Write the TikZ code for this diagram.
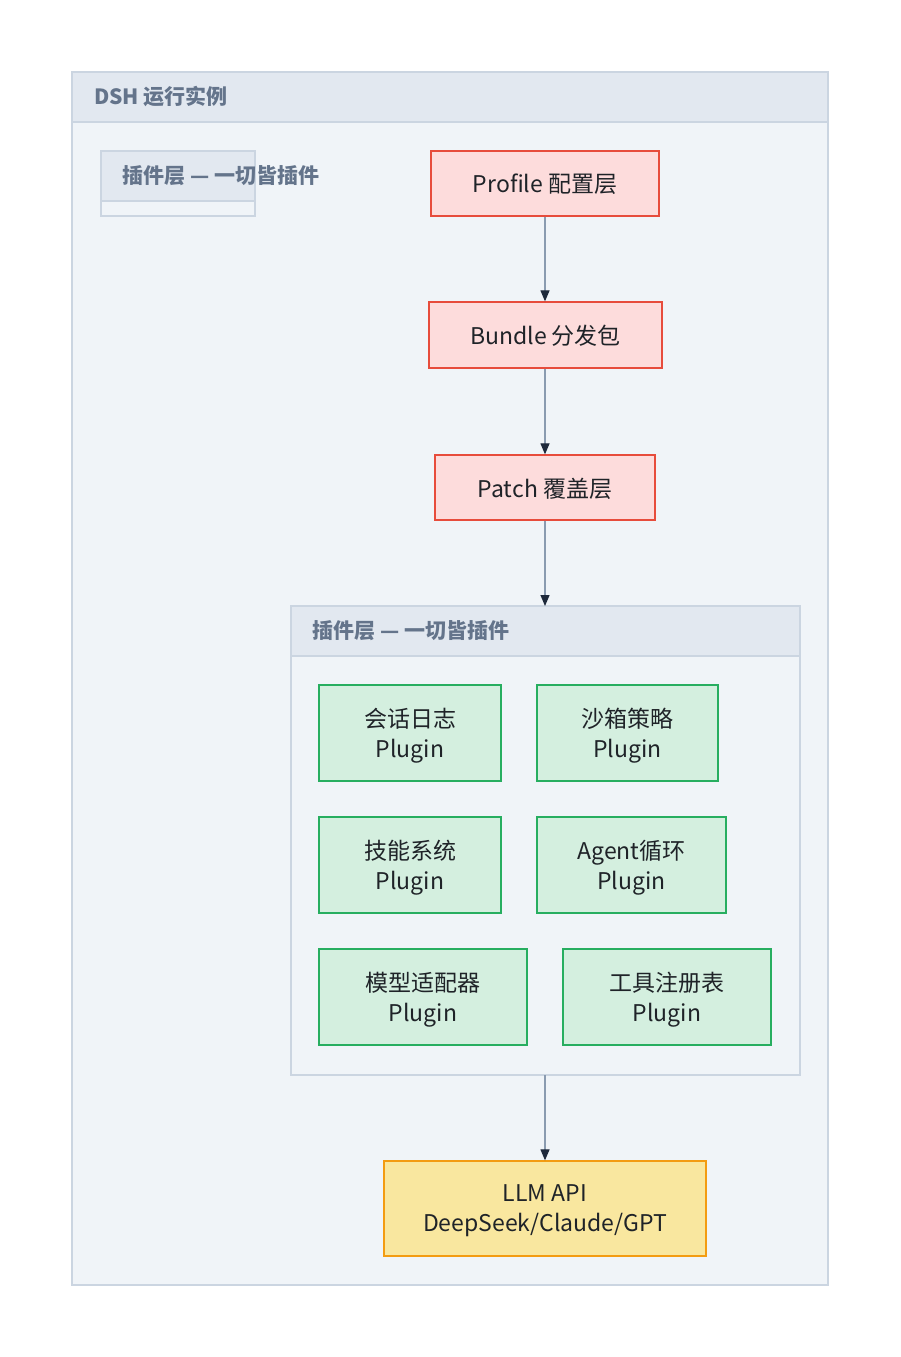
\documentclass[tikz,border=0pt]{standalone}
\usepackage{fontspec}
\setmainfont{Noto Sans CJK SC}
\usetikzlibrary{arrows.meta,positioning}
\definecolor{bgbody}{HTML}{F0F4F8}
\definecolor{bghead}{HTML}{E2E8F0}
\definecolor{grpline}{HTML}{CBD5E1}
\definecolor{grptext}{HTML}{64748B}
\definecolor{redfill}{HTML}{FDDCDC}
\definecolor{redline}{HTML}{E74C3C}
\definecolor{greenfill}{HTML}{D4EFDF}
\definecolor{greenline}{HTML}{27AE60}
\definecolor{yelfill}{HTML}{F9E79F}
\definecolor{yelline}{HTML}{F39C12}
\definecolor{edgeline}{HTML}{8A9BB0}
\definecolor{tipcol}{HTML}{1E293B}
\definecolor{txt}{HTML}{1F2328}
\tikzset{
  boxbase/.style={draw, line width=1.3pt, inner sep=0pt, align=center, text=txt,
    font=\fontsize{23}{30}\selectfont, text depth=0pt},
  redbox/.style={boxbase, fill=redfill, draw=redline},
  greenbox/.style={boxbase, fill=greenfill, draw=greenline},
  yelbox/.style={boxbase, fill=yelfill, draw=yelline},
  grptitle/.style={anchor=west, text=grptext, font=\fontsize{21}{24}\selectfont\bfseries, inner sep=0pt},
  flow/.style={draw=edgeline, line width=1.2pt, -{Triangle[length=11pt,width=9pt,color=tipcol]}},
}
\begin{document}
\begin{tikzpicture}[x=1pt,y=-1pt]
\useasboundingbox (0,0) rectangle (900,1357);
\fill[white] (0,0) rectangle (900,1357);
% outer container
\filldraw[fill=bgbody, draw=grpline, line width=1.2pt] (72,72) rectangle (828,1285);
\filldraw[fill=bghead, draw=grpline, line width=1.2pt] (72,72) rectangle (828,122);
\node[grptitle] (outertitle) at (94,97) {DSH 运行实例};
% ghost box
\filldraw[fill=bgbody, draw=grpline, line width=1.2pt] (101,151) rectangle (255,216);
\filldraw[fill=bghead, draw=grpline, line width=1.2pt] (101,151) rectangle (255,201);
\node[grptitle] (ghosttitle) at (122,176) {插件层 — 一切皆插件};
% top chain
\node[redbox, minimum width=228pt, minimum height=65pt] (profile) at (545,183.5) {Profile 配置层};
\node[redbox, minimum width=233pt, minimum height=66pt] (bundle) at (545.5,335) {Bundle 分发包};
\node[redbox, minimum width=220pt, minimum height=65pt] (patch) at (545,487.5) {Patch 覆盖层};
% plugin container
\filldraw[fill=bgbody, draw=grpline, line width=1.2pt] (291,606) rectangle (800,1075);
\filldraw[fill=bghead, draw=grpline, line width=1.2pt] (291,606) rectangle (800,656);
\coordinate (plugtop) at (545,606);
\coordinate (plugbot) at (545,1075);
\node[grptitle] (plugtitle) at (312,631) {插件层 — 一切皆插件};
\node[greenbox, minimum width=182pt, minimum height=96pt] (p1) at (410,733) {会话日志\\Plugin};
\node[greenbox, minimum width=181pt, minimum height=96pt] (p2) at (627.5,733) {沙箱策略\\Plugin};
\node[greenbox, minimum width=182pt, minimum height=96pt] (p3) at (410,865) {技能系统\\Plugin};
\node[greenbox, minimum width=189pt, minimum height=96pt] (p4) at (631.5,865) {Agent循环\\Plugin};
\node[greenbox, minimum width=208pt, minimum height=96pt] (p5) at (423,997) {模型适配器\\Plugin};
\node[greenbox, minimum width=208pt, minimum height=96pt] (p6) at (667,997) {工具注册表\\Plugin};
% LLM
\node[yelbox, minimum width=322pt, minimum height=95pt] (llm) at (545,1208.5) {LLM API\\DeepSeek/Claude/GPT};
% arrows
\draw[flow] (profile.south) -- (bundle.north -| profile.south);
\draw[flow] (bundle.south -| profile.south) -- (patch.north);
\draw[flow] (patch.south) -- (plugtop);
\draw[flow] (plugbot) -- (llm.north);
\end{tikzpicture}
\end{document}
